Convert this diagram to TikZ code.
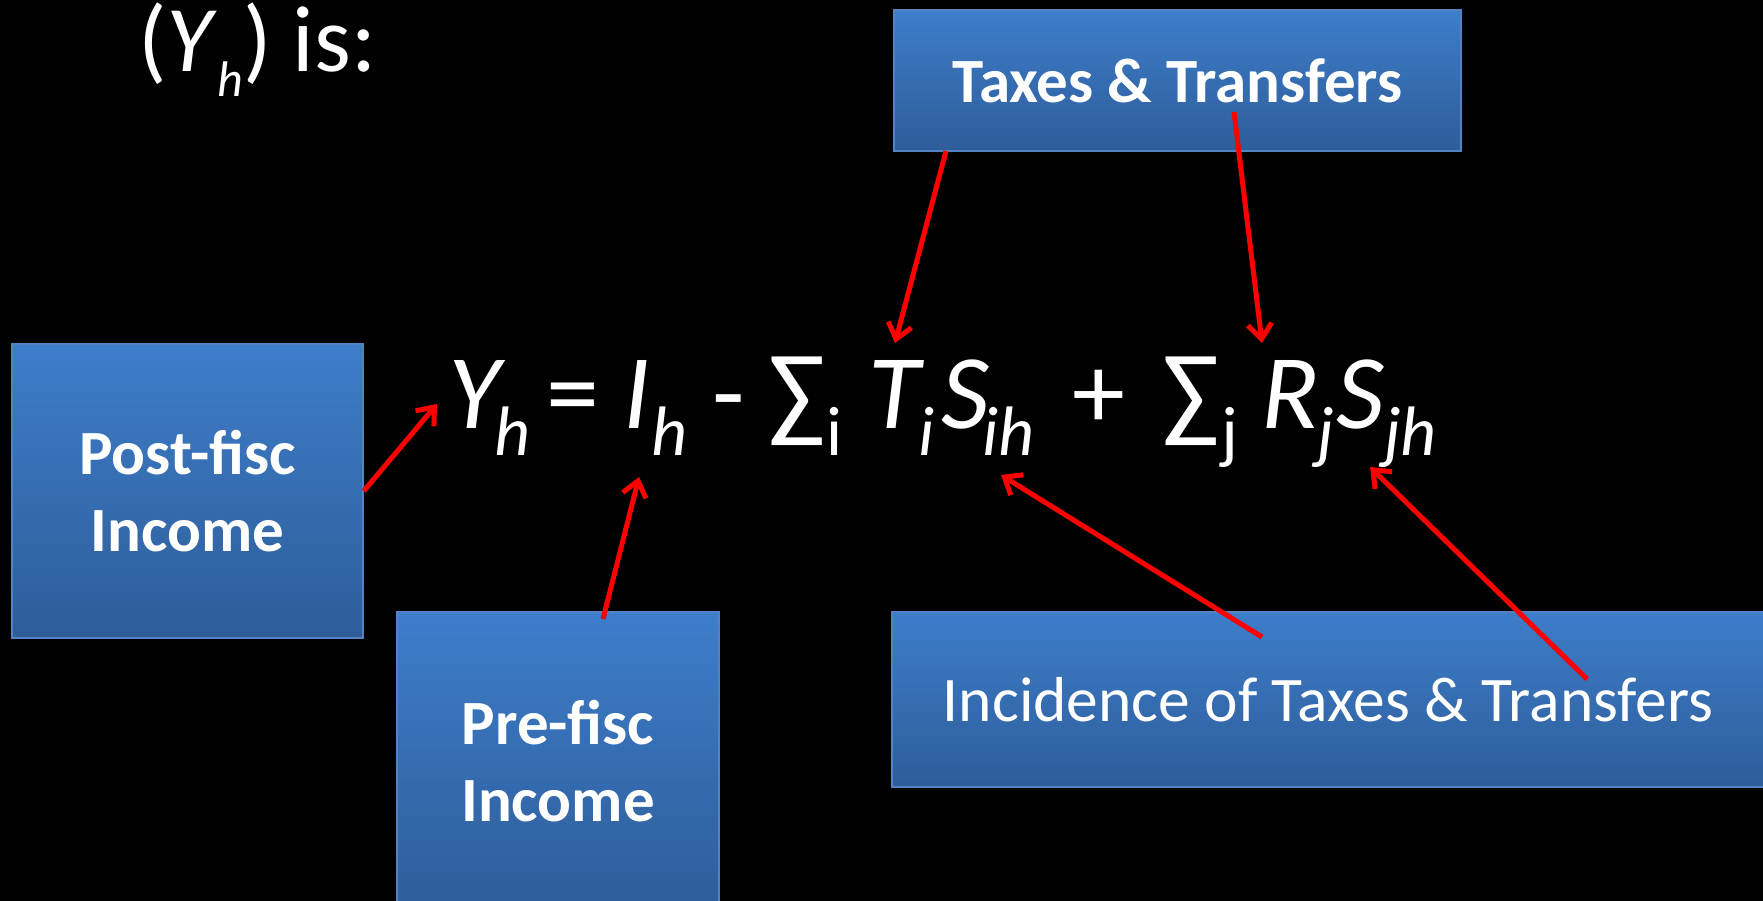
\documentclass[tikz,border=0pt]{standalone}
\usepackage{fontspec}
\setmainfont{Carlito}
\usetikzlibrary{arrows.meta}
\definecolor{boxtop}{RGB}{61,125,202}
\definecolor{boxbot}{RGB}{46,93,153}
\definecolor{boxline}{RGB}{82,132,196}
\tikzset{
  bluebox/.style={draw=boxline, line width=1.5pt, top color=boxtop, bottom color=boxbot, text=white, align=center, inner sep=0pt},
  boldlabel/.style={font=\bfseries\fontsize{63}{77}\selectfont},
  plainlabel/.style={font=\fontsize{63.5}{77}\selectfont},
  redarrow/.style={draw=red, line width=5pt, -{Straight Barb[length=15pt,width=24pt]}},
  eqmain/.style={anchor=base west, inner sep=0pt, text=white, font=\fontsize{106}{110}\selectfont},
  eqsub/.style={anchor=base west, inner sep=0pt, text=white, font=\fontsize{70}{70}\selectfont},
}
\begin{document}
\begin{tikzpicture}[x=1pt,y=-1pt]
\fill[black] (0,0) rectangle (1763,901);
\useasboundingbox (0,0) rectangle (1763,901);

% title
\node[anchor=base west, inner sep=0pt, text=white, font=\fontsize{94}{96}\selectfont] (title) at (138,72)
  {(\textit{Y}\raisebox{-25pt}{\fontsize{50}{50}\selectfont\textit{h}}) is:};

% boxes
\node[bluebox, boldlabel, minimum width=351pt, minimum height=294pt] (post) at (187.5,491) {Post-fisc\\Income};
\node[bluebox, boldlabel, minimum width=322pt, minimum height=299pt] (pre) at (558,761.5) {Pre-fisc\\Income};
\node[bluebox, boldlabel, minimum width=567pt, minimum height=141pt] (taxes) at (1177.5,80.5) {Taxes \& Transfers};
\node[bluebox, plainlabel, minimum width=872pt, minimum height=175pt] (inc) at (1328,699.5) {Incidence of Taxes \& Transfers};

% equation
\node[eqmain] (Y) at (448,428) {\itshape Y};
\node[eqsub] (Yh) at (494,455) {\itshape h};
\node[eqmain] (eq) at (546,428) {=};
\node[eqmain] (I) at (623,428) {\itshape I};
\node[eqsub] (Ih) at (651,455) {\itshape h};
\node[eqmain] (minus) at (712,428) {-};
\node[eqmain] (sum1) at (768,428) {∑};
\node[eqsub] (sumi) at (826,455) {i};
\node[eqmain] (T) at (868,428) {\itshape T};
\node[eqsub] (Ti) at (918,455) {\itshape i};
\node[eqmain] (S1) at (941,428) {\itshape S};
\node[eqsub] (S1ih) at (982,455) {\itshape ih};
\node[eqmain] (plus) at (1072,428) {+};
\node[eqmain] (sum2) at (1162,428) {∑};
\node[eqsub] (sumj) at (1221,455) {j};
\node[eqmain] (R) at (1261,428) {\itshape R};
\node[eqsub] (Rj) at (1317,455) {\itshape j};
\node[eqmain] (S2) at (1336,428) {\itshape S};
\node[eqsub] (S2jh) at (1384,455) {\itshape jh};

% arrow ends
\coordinate (tipY) at (437,404);
\coordinate (tipI) at (639,477);
\coordinate (tipT) at (895,343);
\coordinate (tipR) at (1262,343);
\coordinate (tipS1) at (1001,475);
\coordinate (tipS2) at (1370,467);
\coordinate (fromPre) at (603,619);
\coordinate (fromTaxL) at (946,151);
\coordinate (fromTaxR) at (1234,112);
\coordinate (fromIncL) at (1262,637);
\coordinate (fromIncR) at (1587,679);

\draw[redarrow] (post.east) -- (tipY);
\draw[redarrow] (fromPre) -- (tipI);
\draw[redarrow] (fromTaxL) -- (tipT);
\draw[redarrow] (fromTaxR) -- (tipR);
\draw[redarrow] (fromIncL) -- (tipS1);
\draw[redarrow] (fromIncR) -- (tipS2);
\end{tikzpicture}
\end{document}
